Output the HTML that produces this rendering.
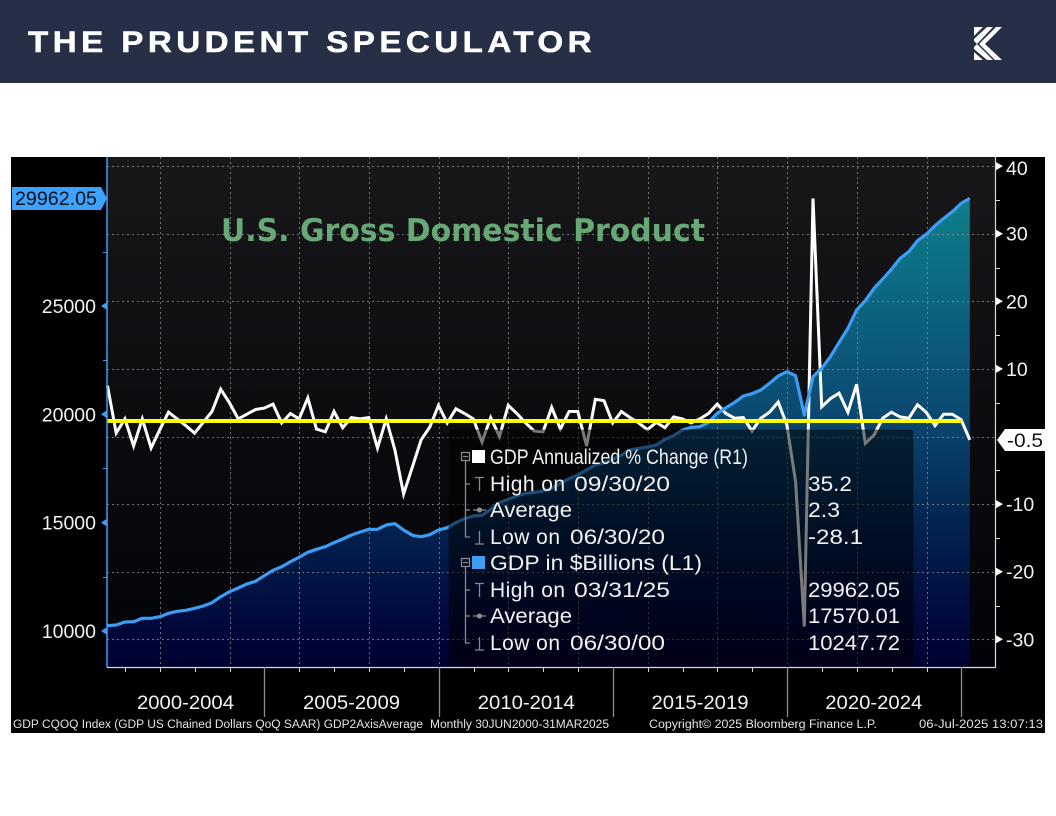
<!DOCTYPE html>
<html lang="en">
<head>
<meta charset="utf-8">
<title>U.S. Gross Domestic Product</title>
<style>
html,body{margin:0;padding:0;background:#fff;width:1056px;height:816px;overflow:hidden}
svg{display:block}
text{font-family:"Liberation Sans",sans-serif}
</style>
</head>
<body>
<svg id="page" width="1056" height="816" viewBox="0 0 1056 816" xmlns="http://www.w3.org/2000/svg">
<defs>
<linearGradient id="plotBg" x1="0" y1="0" x2="0" y2="1">
<stop offset="0" stop-color="#18181b"/><stop offset="0.6" stop-color="#0a0a0e"/><stop offset="1" stop-color="#02020a"/>
</linearGradient>
<linearGradient id="areaFill" gradientUnits="userSpaceOnUse" x1="0" y1="198" x2="0" y2="667">
<stop offset="0" stop-color="#0e7f8c"/><stop offset="0.45" stop-color="#0b4a72"/><stop offset="0.72" stop-color="#03204c"/><stop offset="0.88" stop-color="#010c3e"/><stop offset="1" stop-color="#000030"/>
</linearGradient>
</defs>

<rect x="0" y="0" width="1056" height="83" fill="#262f45"/>
<text x="28" y="52" font-size="30" font-weight="700" fill="#ffffff" stroke="#ffffff" stroke-width="0.5" textLength="568" lengthAdjust="spacingAndGlyphs" letter-spacing="4">THE PRUDENT SPECULATOR</text>
<g fill="#ffffff">
<polygon points="974,27 983,27 974,36"/>
<polygon points="987,27 993,27 977,44 974,41 974,39"/>
<polygon points="996,27 1002,27 985,44 979,44"/>
<polygon points="979,44 985,44 1002,60 995,60"/>
<polygon points="974,47 977,44 993,60 987,60 974,49"/>
<polygon points="974,52 983,60 974,60"/>
</g>

<rect x="11" y="157" width="1034" height="576" fill="#000000"/>
<rect x="107" y="157" width="888" height="510" fill="url(#plotBg)"/>

<path id="gdp-area" fill="url(#areaFill)"/>
<g id="grid" stroke="#8a8a8a" stroke-width="1" stroke-dasharray="2 3" opacity="0.8"></g>
<polyline id="change-line" fill="none" stroke="#ffffff" stroke-width="3" stroke-linejoin="miter"/>
<polyline id="gdp-line" fill="none" stroke="#3d9df5" stroke-width="3.2" stroke-linejoin="round"/>
<line id="avg-line" stroke="#ffff00" stroke-width="4"/>

<text x="221" y="241" font-size="31" font-weight="700" fill="#66a974" textLength="484" lengthAdjust="spacingAndGlyphs" style="font-family:'DejaVu Sans',sans-serif">U.S. Gross Domestic Product</text>

<g>
<rect x="449" y="430" width="464" height="236" rx="3" fill="#000000" fill-opacity="0.52" stroke="#000000" stroke-opacity="0.4"/>
<g stroke="#8a8a8a" stroke-width="1.3" fill="none">
<rect x="461.5" y="452.5" width="8" height="8"/><line x1="463" x2="468" y1="456.5" y2="456.5"/>
<path d="M465.5 461V537H470M465.5 484H470M465.5 510H470"/>
<rect x="461.5" y="558.5" width="8" height="8"/><line x1="463" x2="468" y1="562.5" y2="562.5"/>
<path d="M465.5 567V643H470M465.5 590H470M465.5 616H470"/>
<path d="M475 477.5H484M479.5 477.5V491M475 544H484M479.5 531V544M473 510H486M475 583.5H484M479.5 583.5V597M475 650H484M479.5 637V650M473 616H486"/>
<circle cx="479.5" cy="510" r="2" fill="#8a8a8a"/><circle cx="479.5" cy="616" r="2" fill="#8a8a8a"/>
</g>
<rect x="472" y="450" width="13" height="13" fill="#ffffff"/>
<rect x="472" y="556" width="13" height="13" fill="#3d9df5"/>
<g font-size="21" fill="#f2f2f2">
<text x="490" y="464" textLength="258" lengthAdjust="spacingAndGlyphs">GDP Annualized % Change (R1)</text>
<text x="490" y="491" textLength="75" lengthAdjust="spacing">High on</text>
<text x="574" y="491" textLength="96" lengthAdjust="spacingAndGlyphs">09/30/20</text>
<text x="490" y="517" textLength="82" lengthAdjust="spacingAndGlyphs">Average</text>
<text x="490" y="544" textLength="70" lengthAdjust="spacing">Low on</text>
<text x="570" y="544" textLength="95" lengthAdjust="spacingAndGlyphs">06/30/20</text>
<text x="490" y="570" textLength="212" lengthAdjust="spacingAndGlyphs">GDP in $Billions (L1)</text>
<text x="490" y="597" textLength="75" lengthAdjust="spacing">High on</text>
<text x="574" y="597" textLength="96" lengthAdjust="spacingAndGlyphs">03/31/25</text>
<text x="490" y="623" textLength="82" lengthAdjust="spacingAndGlyphs">Average</text>
<text x="490" y="650" textLength="70" lengthAdjust="spacing">Low on</text>
<text x="570" y="650" textLength="95" lengthAdjust="spacingAndGlyphs">06/30/00</text>
<text x="808" y="491" textLength="44" lengthAdjust="spacingAndGlyphs">35.2</text>
<text x="808" y="517" textLength="32" lengthAdjust="spacingAndGlyphs">2.3</text>
<text x="808" y="544" textLength="55" lengthAdjust="spacingAndGlyphs">-28.1</text>
<text x="808" y="597" textLength="92" lengthAdjust="spacingAndGlyphs">29962.05</text>
<text x="808" y="623" textLength="92" lengthAdjust="spacingAndGlyphs">17570.01</text>
<text x="808" y="650" textLength="92" lengthAdjust="spacingAndGlyphs">10247.72</text>
</g>
</g>

<line x1="107" x2="107" y1="157" y2="667.5" stroke="#3d9df5" stroke-width="1.5"/>
<line x1="995.5" x2="995.5" y1="157" y2="668" stroke="#d8d8d8" stroke-width="1.2"/>
<line x1="107" x2="996" y1="667.5" y2="667.5" stroke="#d8d8d8" stroke-width="1.2"/>
<g id="axes"></g>

<g>
<polygon points="12,187 101,187 107,198.5 101,210 12,210" fill="#3ea1fb"/>
<text x="15" y="205" font-size="19.5" fill="#06121f" textLength="82" lengthAdjust="spacingAndGlyphs">29962.05</text>
</g>
<g>
<polygon points="997,440 1005,429 1045,429 1045,451 1005,451" fill="#ffffff"/>
<text x="1007" y="447" font-size="19" fill="#111111" textLength="36" lengthAdjust="spacingAndGlyphs">-0.5</text>
</g>

<g font-size="11.5" fill="#e4e4e4">
<text x="13" y="728" textLength="410" lengthAdjust="spacingAndGlyphs">GDP CQOQ Index (GDP US Chained Dollars QoQ SAAR) GDP2AxisAverage</text>
<text x="430" y="728" textLength="179" lengthAdjust="spacingAndGlyphs">Monthly 30JUN2000-31MAR2025</text>
<text x="649" y="728" textLength="228" lengthAdjust="spacingAndGlyphs">Copyright© 2025 Bloomberg Finance L.P.</text>
<text x="919" y="728" textLength="124" lengthAdjust="spacingAndGlyphs">06-Jul-2025 13:07:13</text>
</g>
</svg>

<script>
var changeValues = [7.5,0.5,2.6,-1.4,2.6,-1.7,1.0,3.6,2.6,1.6,
0.5,2.1,3.7,7.0,5.0,2.6,3.3,4.0,4.2,4.8,
2.0,3.4,2.6,5.7,1.1,0.7,3.7,1.3,2.8,2.6,
2.8,-1.7,2.6,-2.0,-8.5,-4.5,-0.5,1.4,4.6,2.0,
4.1,3.4,2.6,-0.8,2.8,0.0,4.6,3.4,2.0,0.8,
0.7,4.3,1.1,3.7,3.7,-1.4,5.5,5.3,2.0,3.7,
2.8,2.0,1.0,2.1,1.3,2.9,2.6,2.0,2.6,3.4,
4.8,3.4,2.7,2.8,0.8,2.7,3.6,5.1,1.7,-6.7,
-28.1,35.2,4.4,5.6,6.4,3.6,7.7,-1.0,0.2,2.7,
3.6,2.9,2.7,4.7,3.6,1.6,3.3,3.3,2.5,-0.5];
var gdpValues = [10248,10277,10415,10431,10584,10584,10661,10815,10907,10954,
11046,11154,11307,11584,11815,11984,12169,12292,12553,12799,
12968,13199,13399,13630,13768,13891,14076,14245,14429,14568,
14691,14691,14891,14952,14660,14414,14353,14445,14660,14768,
15000,15183,15306,15337,15614,15921,16075,16229,16352,16398,
16460,16583,16814,17029,17198,17429,17659,17767,17921,18121,
18351,18428,18490,18582,18843,19012,19274,19397,19428,19628,
20043,20305,20551,20843,20951,21120,21427,21766,21966,21781,
19966,21735,22119,22657,23319,23965,24811,25242,25811,26241,
26687,27195,27502,28010,28302,28702,29040,29348,29733,29962.05];
var averageChange = [2.3];
var leftTicks = [10000,15000,20000,25000];
var leftMinorTicks = [12500,17500,22500,27500];
var rightTicks = [40,30,20,10,-10,-20,-30];
var rightMinorTicks = [35,25,15,5,-5,-15,-25];
var gridValues = [40,30,20,10,0,-10,-20,-30];
var periodLabels = ['2000-2004','2005-2009','2010-2014','2015-2019','2020-2024'];
var tickYears = [2001,2002,2003,2004,2005,2006,2007,2008,2009,2010,2011,2012,2013,2014,2015,2016,2017,2018,2019,2020,2021,2022,2023,2024,2025];
var gridYears = [2002,2004,2006,2008,2010,2012,2014,2016,2018,2020,2022,2024];

var NS = 'http://www.w3.org/2000/svg';
var plotTop = 157, plotBottom = 667, plotLeft = 107, plotRight = 995;
function xIndex(i){ return 107.5 + i * 8.71; }
function xYear(y){ return 125 + (y - 2001) * 34.85; }
function yLeft(v){ return 631 - (v - 10000) * 0.02167; }
function yRight(v){ return 436.5 - v * 6.76; }
function make(tag, parent){ var el = document.createElementNS(NS, tag); parent.appendChild(el); return el; }

var changePts = changeValues.map(function(v,i){ return xIndex(i).toFixed(1)+','+yRight(v).toFixed(1); });
var gdpPts = gdpValues.map(function(v,i){ return xIndex(i).toFixed(1)+','+yLeft(v).toFixed(1); });
document.getElementById('change-line').setAttribute('points', changePts.join(' '));
document.getElementById('gdp-line').setAttribute('points', gdpPts.join(' '));
document.getElementById('gdp-area').setAttribute('d', 'M' + xIndex(0).toFixed(1) + ',' + plotBottom + 'L' + gdpPts.join('L') + 'L' + xIndex(gdpValues.length-1).toFixed(1) + ',' + plotBottom + 'Z');
var avg = document.getElementById('avg-line');
avg.setAttribute('x1', xIndex(0));
avg.setAttribute('x2', xIndex(changeValues.length-2)+1);
avg.setAttribute('y1', yRight(averageChange[0]));
avg.setAttribute('y2', yRight(averageChange[0]));

var grid = document.getElementById('grid');
gridValues.forEach(function(v){
  var l = make('line', grid);
  
  
  l.setAttribute('x1', plotLeft); l.setAttribute('x2', plotRight);
  l.setAttribute('y1', Math.round(yRight(v))+0.5); l.setAttribute('y2', Math.round(yRight(v))+0.5);
});
gridYears.forEach(function(y){
  var l = make('line', grid);
  
  
  var x = Math.round(xYear(y))+0.5;
  l.setAttribute('x1', x); l.setAttribute('x2', x);
  l.setAttribute('y1', plotTop); l.setAttribute('y2', plotBottom);
});

var axes = document.getElementById('axes');
leftTicks.forEach(function(v){
  var y = yLeft(v);
  var m = make('polygon', axes);
  
  
  m.setAttribute('points', '107,'+(y-4)+' 101,'+y+' 107,'+(y+4));
  m.setAttribute('fill', '#3d9df5');
  var t = make('text', axes);
  
  
  t.setAttribute('x', 96); t.setAttribute('y', y+7);
  t.setAttribute('text-anchor', 'end');
  t.setAttribute('font-size', '19.5');
  t.setAttribute('fill', '#f2f2f2');
  t.textContent = String(v);
});
leftMinorTicks.forEach(function(v){
  var y = Math.round(yLeft(v))+0.5;
  var l = make('line', axes);
  
  
  l.setAttribute('x1', 103); l.setAttribute('x2', 107);
  l.setAttribute('y1', y); l.setAttribute('y2', y);
  l.setAttribute('stroke', '#3d9df5');
});
rightTicks.forEach(function(v){
  var y = yRight(v);
  var m = make('polygon', axes);
  
  
  m.setAttribute('points', '996,'+(y-4)+' 1003,'+y+' 996,'+(y+4));
  m.setAttribute('fill', '#ffffff');
  var t = make('text', axes);
  
  
  t.setAttribute('x', 1006); t.setAttribute('y', y + (v === 40 ? 9 : 7));
  t.setAttribute('font-size', '19.5');
  t.setAttribute('fill', '#f2f2f2');
  t.textContent = String(v);
});
rightMinorTicks.forEach(function(v){
  var y = Math.round(yRight(v))+0.5;
  var l = make('line', axes);
  
  
  l.setAttribute('x1', 996); l.setAttribute('x2', 1000);
  l.setAttribute('y1', y); l.setAttribute('y2', y);
  l.setAttribute('stroke', '#d8d8d8');
});
tickYears.forEach(function(yr){
  var x = Math.round(xYear(yr))+0.5;
  var major = (yr - 2000) % 5 === 0;
  var l = make('line', axes);
  
  
  l.setAttribute('x1', x); l.setAttribute('x2', x);
  l.setAttribute('y1', 667); l.setAttribute('y2', major ? 717 : 672);
  l.setAttribute('stroke', major ? '#8c8c8c' : '#d8d8d8');
  l.setAttribute('stroke-width', major ? '1.3' : '1');
});
periodLabels.forEach(function(label,k){
  var t = make('text', axes);
  
  
  var startX = k === 0 ? 107 : xYear(2000 + k*5);
  var endX = xYear(2005 + k*5);
  var offs = [-0.5, 0, 0.5, 0, -0.5];
  t.setAttribute('x', (k === 0 ? 185.5 : (startX + endX)/2 + offs[k]));
  t.setAttribute('y', 709);
  t.setAttribute('text-anchor', 'middle');
  t.setAttribute('font-size', '19.5');
  t.setAttribute('fill', '#f2f2f2');
  t.setAttribute('textLength', '97');
  t.setAttribute('lengthAdjust', 'spacingAndGlyphs');
  t.textContent = label;
});
</script>
</body>
</html>
